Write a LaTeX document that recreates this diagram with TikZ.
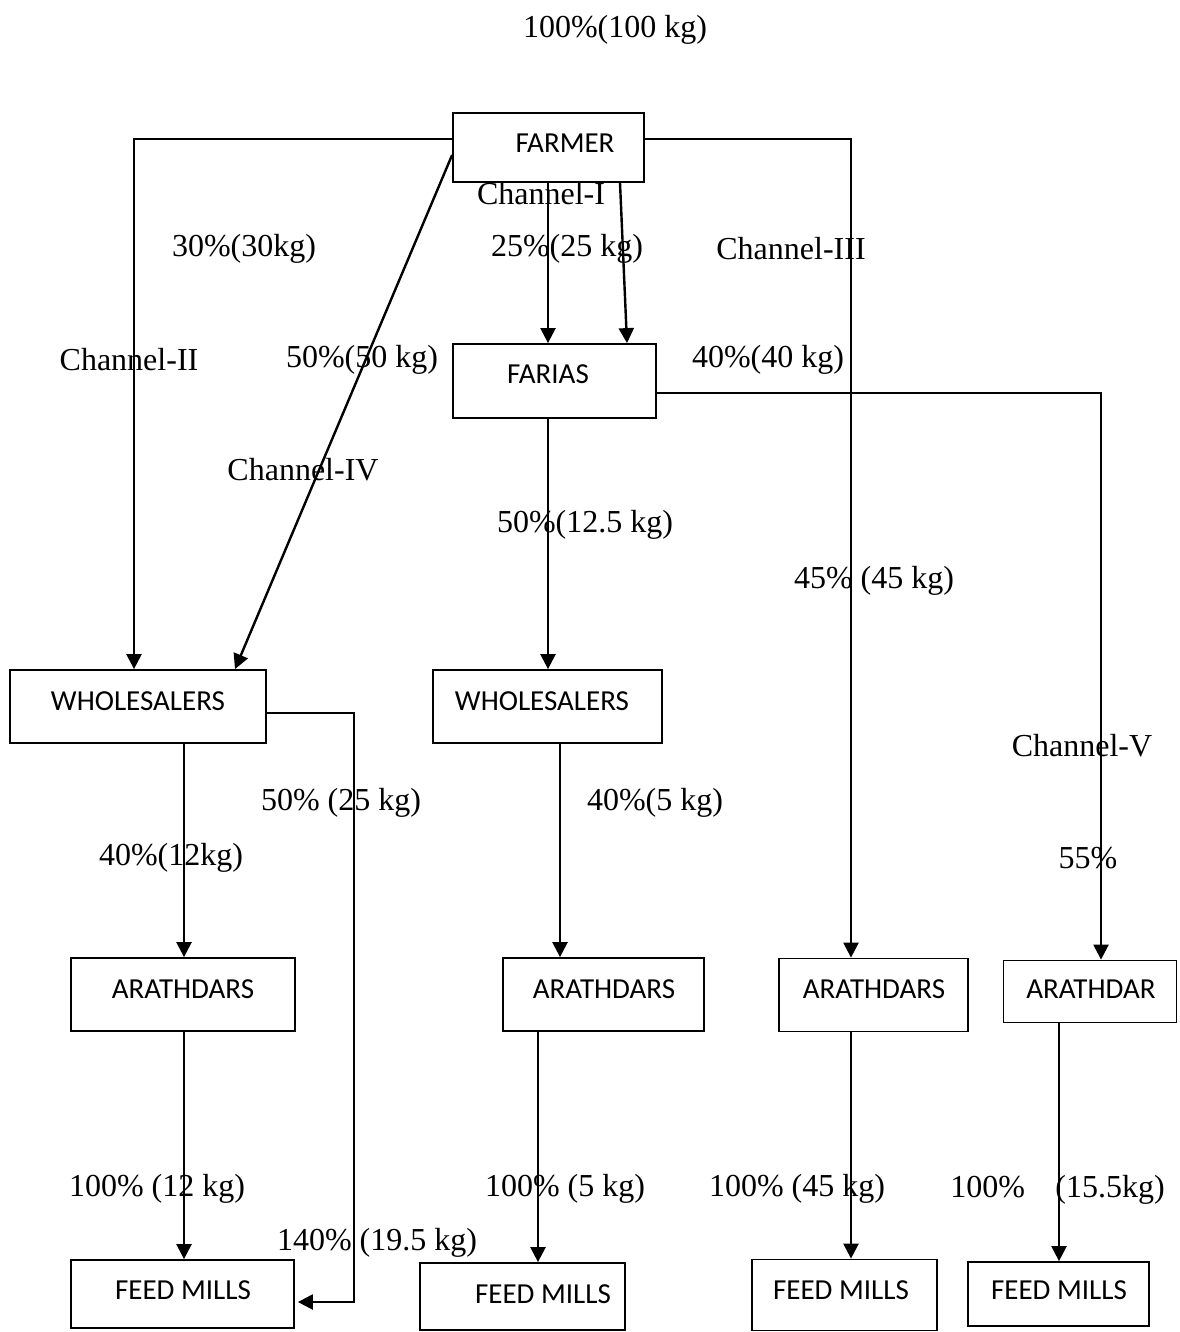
\documentclass[tikz,border=0pt]{standalone}
\usepackage{fontspec}
\setmainfont{Liberation Serif}
\newfontfamily\boxfont{Carlito}
\usetikzlibrary{arrows.meta}
\begin{document}
\begin{tikzpicture}[x=0.5pt,y=-0.5pt,
  box/.style={draw,line width=0.9pt,inner sep=0pt},
  bt/.style={font=\boxfont\fontsize{14.5}{16}\selectfont,inner sep=0pt},
  lb/.style={font=\fontsize{16}{18}\selectfont,inner sep=0pt},
  arr/.style={line width=1.2pt,-{Triangle[length=7.5pt,width=7.5pt]}}]
\useasboundingbox (0,0) rectangle (1179,1332);
% boxes
\node[box,minimum width=95.5pt,minimum height=34.5pt] (farmer) at (548.5,147.5) {};
\node[box,minimum width=101.5pt,minimum height=37pt] (farias) at (554.5,381) {};
\node[box,minimum width=128pt,minimum height=36.5pt] (ws1) at (138,706.5) {};
\node[box,minimum width=114.5pt,minimum height=36.5pt] (ws2) at (547.5,706.5) {};
\node[box,minimum width=112pt,minimum height=36.5pt] (ar1) at (183,994.5) {};
\node[box,minimum width=100.5pt,minimum height=36.5pt] (ar2) at (603.5,994.5) {};
\node[box,minimum width=94.5pt,minimum height=36.5pt] (ar3) at (873.5,995) {};
\node[box,minimum width=86.5pt,minimum height=31pt] (ar4) at (1090,991.5) {};
\node[box,minimum width=111.5pt,minimum height=34pt] (fm1) at (182.5,1294) {};
\node[box,minimum width=102.5pt,minimum height=33.5pt] (fm2) at (522.5,1296.5) {};
\node[box,minimum width=92.5pt,minimum height=35.5pt] (fm3) at (844.5,1295) {};
\node[box,minimum width=90.5pt,minimum height=32pt] (fm4) at (1058.5,1294) {};
% box texts
\node[bt] (t-farmer) at (565,143) {FARMER};
\node[bt] (t-farias) at (548,374) {FARIAS};
\node[bt] (t-ws1) at (138,701) {WHOLESALERS};
\node[bt] (t-ws2) at (542,701) {WHOLESALERS};
\node[bt] (t-ar1) at (183,989) {ARATHDARS};
\node[bt] (t-ar2) at (604,989) {ARATHDARS};
\node[bt] (t-ar3) at (874,989) {ARATHDARS};
\node[bt] (t-ar4) at (1091,989) {ARATHDAR};
\node[bt] (t-fm1) at (183,1290) {FEED MILLS};
\node[bt] (t-fm2) at (543,1294) {FEED MILLS};
\node[bt] (t-fm3) at (841,1290) {FEED MILLS};
\node[bt] (t-fm4) at (1059,1290) {FEED MILLS};
% connectors
\draw[arr] ([yshift=4.25pt]farmer.west) -| ([xshift=-2pt]ws1.north);
\draw[arr] ([yshift=-3.75pt]farmer.west) -- ([xshift=48.5pt]ws1.north);
\draw[arr] ([yshift=4.25pt]farmer.east) -| ([xshift=-11.25pt]ar3.north);
\draw[arr] ([xshift=-0.25pt]farmer.south) -- ([xshift=-3.25pt]farias.north);
\draw[arr] ([xshift=35.75pt]farmer.south) -- ([xshift=36.25pt]farias.north);
\draw[arr] ([yshift=-6pt]farias.east) -| ([xshift=5.5pt]ar4.north);
\draw[arr] ([xshift=0.25pt]ws2.north |- farias.south) -- ([xshift=0.25pt]ws2.north);
\coordinate (c1) at (354,1302);
\draw[arr] ([yshift=-3.25pt]ws1.east) -| (c1) -- ([xshift=1.5pt,yshift=-4pt]fm1.east);
\draw[arr] ([xshift=0.5pt]ar1.north |- ws1.south) -- ([xshift=0.5pt]ar1.north);
\draw[arr] ([xshift=-21.75pt]ar2.north |- ws2.south) -- ([xshift=-21.75pt]ar2.north);
\draw[arr] ([xshift=0.75pt]fm1.north |- ar1.south) -- ([xshift=0.75pt]fm1.north);
\draw[arr] ([xshift=7.75pt]fm2.north |- ar2.south) -- ([xshift=7.75pt]fm2.north);
\draw[arr] ([xshift=3.25pt]fm3.north |- ar3.south) -- ([xshift=3.25pt]fm3.north);
\draw[arr] ([xshift=0.25pt]fm4.north |- ar4.south) -- ([xshift=0.25pt]fm4.north);
% labels
\node[lb] (l0) at (615,30) {100\%(100 kg)};
\node[lb] (l1) at (541,194) {Channel-I};
\node[lb] (l2) at (244,249) {30\%(30kg)};
\node[lb] (l3) at (567,249) {25\%(25 kg)};
\node[lb] (l4) at (791,249) {Channel-III};
\node[lb] (l5) at (129,360) {Channel-II};
\node[lb] (l6) at (362,360) {50\%(50 kg)};
\node[lb] (l7) at (768,360) {40\%(40 kg)};
\node[lb] (l8) at (303,470) {Channel-IV};
\node[lb] (l9) at (585,525) {50\%(12.5 kg)};
\node[lb] (l10) at (874,581) {45\% (45 kg)};
\node[lb] (l11) at (1082,746) {Channel-V};
\node[lb] (l12) at (341,803) {50\% (25 kg)};
\node[lb] (l13) at (655,803) {40\%(5 kg)};
\node[lb] (l14) at (171,858) {40\%(12kg)};
\node[lb] (l15) at (1088,858) {55\%};
\node[lb] (l16) at (157,1189) {100\% (12 kg)};
\node[lb] (l17) at (565,1189) {100\% (5 kg)};
\node[lb] (l18) at (797,1189) {100\% (45 kg)};
\node[lb,anchor=base west] (l19) at (950,1197) {100\%};
\node[lb,anchor=base west] (l20) at (1055,1197) {(15.5kg)};
\node[lb] (l21) at (377,1243) {140\% (19.5 kg)};
\end{tikzpicture}
\end{document}
